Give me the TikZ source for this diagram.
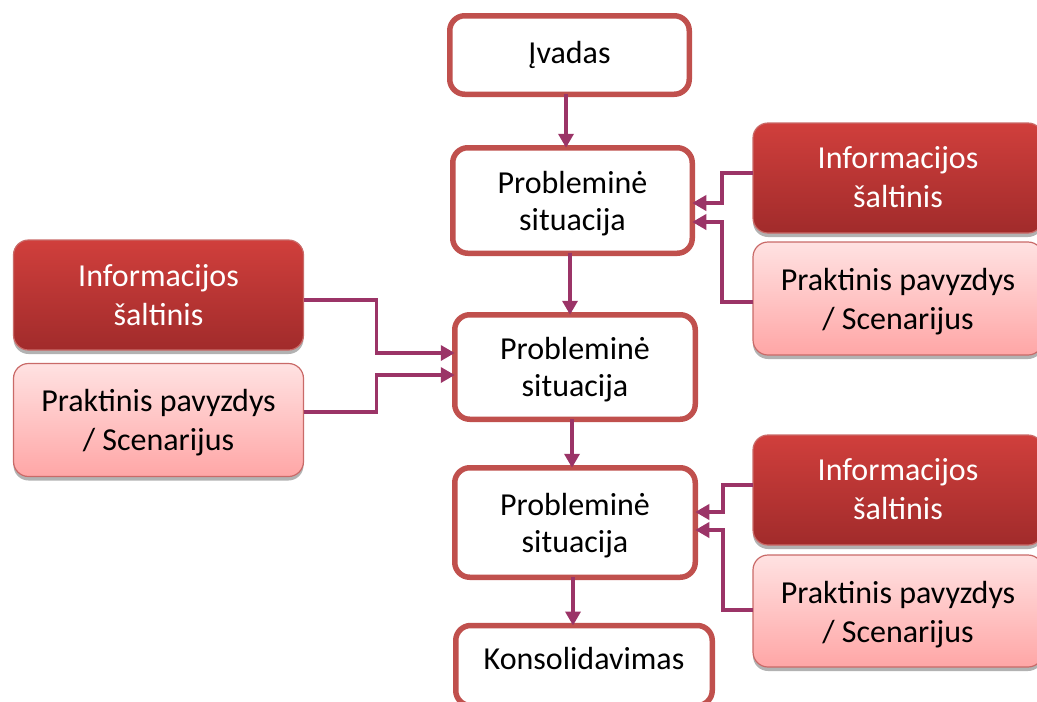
\documentclass[tikz,border=0pt]{standalone}
\usepackage{fontspec}
\setmainfont{Carlito}
\usetikzlibrary{arrows.meta,shadows,calc}

\definecolor{boxred}{HTML}{C0504D}
\definecolor{darktop}{HTML}{D03F3C}
\definecolor{darkbot}{HTML}{A12B2B}
\definecolor{pinktop}{HTML}{FFE2E2}
\definecolor{pinkbot}{HTML}{FFA6A6}
\definecolor{linkcol}{HTML}{9B3467}

% centred lines, set a little below the box centre
\newcommand{\boxtext}[2][4pt]{\raisebox{-#1}[\height][\depth]{\begin{tabular}{@{}c@{}}#2\end{tabular}}}

\tikzset{
  mainbox/.style={draw=boxred, line width=5.5pt, fill=white, rounded corners=15pt,
    align=center, inner sep=0pt, outer sep=0pt, minimum width=240pt,
    font=\fontsize{32}{37}\selectfont},
  srcbox/.style={draw=boxred!85!white, line width=1.2pt, rounded corners=15pt,
    align=center, inner sep=0pt, outer sep=0pt, minimum width=290pt,
    minimum height=110pt, font=\fontsize{32}{39}\selectfont,
    drop shadow={shadow xshift=0pt, shadow yshift=-4pt, opacity=0.3, fill=black}},
  infobox/.style={srcbox, top color=darktop, bottom color=darkbot, text=white},
  casebox/.style={srcbox, top color=pinktop, bottom color=pinkbot, text=black},
  link/.style={draw=linkcol, line width=3.5pt,
    -{Triangle[length=14pt,width=15pt]}}
}

\begin{document}
\begin{tikzpicture}[x=1pt,y=-1pt]
  \useasboundingbox (0,0) rectangle (1037,702);
  \clip (0,0) rectangle (1037,702);

  % central chain
  \node[mainbox, minimum height=78.5pt, minimum width=239.5pt] (intro) at (569.5,55) {Įvadas};
  \node[mainbox, minimum height=105.5pt, minimum width=239.5pt] (ps1) at (572.5,200.5) {\boxtext{Probleminė\\situacija}};
  \node[mainbox, minimum height=104.5pt, minimum width=240.5pt] (ps2) at (575,367) {\boxtext{Probleminė\\situacija}};
  \node[mainbox, minimum height=109.5pt, minimum width=240.5pt] (ps3) at (575,522.5) {\boxtext{Probleminė\\situacija}};
  \node[mainbox, minimum height=80pt, minimum width=256.5pt] (cons) at (584,665.5) {\boxtext[-3pt]{Konsolidavimas}};

  % side inputs
  \node[infobox] (infoA) at (898,178) {\boxtext[2pt]{Informacijos\\šaltinis}};
  \node[casebox, minimum height=113pt] (caseA) at (898,298.5) {\boxtext[4pt]{Praktinis pavyzdys\\/ Scenarijus}};
  \node[infobox] (infoB) at (158.5,295) {\boxtext[3pt]{Informacijos\\šaltinis}};
  \node[casebox, minimum height=113pt] (caseB) at (158.5,420) {\boxtext[3pt]{Praktinis pavyzdys\\/ Scenarijus}};
  \node[infobox] (infoC) at (898,490) {\boxtext[2pt]{Informacijos\\šaltinis}};
  \node[casebox, minimum height=112pt] (caseC) at (898,611) {\boxtext[4pt]{Praktinis pavyzdys\\/ Scenarijus}};

  % vertical flow
  \draw[link] ([xshift=-3.5pt]intro.south) -- ([xshift=-3.5pt]intro.south |- ps1.north);
  \draw[link] ([xshift=-2.5pt]ps1.south) -- ([xshift=-2.5pt]ps1.south |- ps2.north);
  \draw[link] ([xshift=-3pt]ps2.south) -- ([xshift=-3pt]ps2.south |- ps3.north);
  \draw[link] ([xshift=-2pt]ps3.south) -- ([xshift=-2pt]ps3.south |- cons.north);

  % right inputs, upper pair
  \draw[link] ([yshift=5pt]infoA.west) -- ++(-31,0) |- ([yshift=-2.5pt]ps1.east);
  \draw[link] ([yshift=-3.5pt]caseA.west) -- ++(-31,0) |- ([yshift=-21.5pt]ps1.east);
  % left inputs
  \draw[link] ([yshift=-5pt]infoB.east) -- ++(73,0) |- ([yshift=14pt]ps2.west);
  \draw[link] ([yshift=8pt]caseB.east) -- ++(73,0) |- ([yshift=-8pt]ps2.west);
  % right inputs, lower pair
  \draw[link] ([yshift=5pt]infoC.west) -- ++(-30,0) |- ([yshift=10.5pt]ps3.east);
  \draw[link] ([yshift=1pt]caseC.west) -- ++(-30,0) |- ([yshift=-7.5pt]ps3.east);
\end{tikzpicture}
\end{document}
